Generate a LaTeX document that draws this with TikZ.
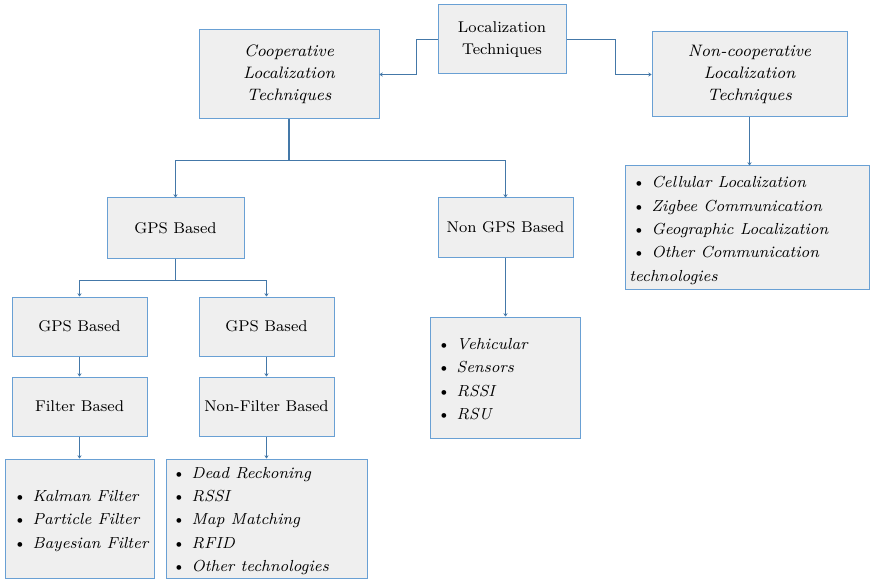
\documentclass[tikz,border=0pt]{standalone}
\usetikzlibrary{arrows.meta}
\definecolor{boxline}{RGB}{105,160,212}
\definecolor{boxfill}{RGB}{239,239,239}
\definecolor{wirecol}{RGB}{68,120,168}
\newcommand{\itm}{{\upshape\textbullet}\hspace{3pt}}
\begin{document}
\begin{tikzpicture}[x=0.5pt,y=-0.5pt,
  box/.style={draw=boxline, fill=boxfill, line width=0.5pt, align=center,
    inner sep=0pt, font=\fontsize{7.8}{11}\selectfont},
  ibox/.style={box, font=\fontsize{8.3}{11}\selectfont\itshape},
  listtext/.style={anchor=west, align=left, inner sep=0pt,
    font=\fontsize{8}{11.65}\selectfont\itshape},
  wire/.style={draw=wirecol, line width=0.75pt, -{Stealth[length=1.6pt,width=2.2pt]}},
]
\useasboundingbox (0,0) rectangle (870,582);

% top level
\node[box, minimum width=64pt, minimum height=34.5pt] (loc) at (502,39.5)
  {Localization\\Techniques};
\node[ibox, minimum width=90pt, minimum height=44.5pt] (coop) at (289,74.5)
  {Cooperative\\Localization\\Techniques};
\node[ibox, minimum width=97.5pt, minimum height=42.5pt] (noncoop) at (749.5,74.5)
  {Non-cooperative\\Localization\\Techniques};

% second level
\node[box, minimum width=68.5pt, minimum height=30pt] (gps) at (175.5,228) {GPS Based};
\node[box, minimum width=67.5pt, minimum height=29.5pt] (nongps) at (505.5,227.5) {Non GPS Based};

% third level
\node[box, minimum width=67.5pt, minimum height=29.5pt] (gpsa) at (79.5,326.5) {GPS Based};
\node[box, minimum width=67.5pt, minimum height=29.5pt] (gpsb) at (266.5,326.5) {GPS Based};
\node[box, minimum width=67.5pt, minimum height=29.5pt] (filt) at (79.5,406.5) {Filter Based};
\node[box, minimum width=67.5pt, minimum height=29.5pt] (nfilt) at (266.5,406.5) {Non-Filter Based};

% list boxes
\node[box, minimum width=74.5pt, minimum height=59.5pt] (kal) at (79.5,518.5) {};
\node[box, minimum width=100.5pt, minimum height=59.5pt] (dead) at (266.5,518.5) {};
\node[box, minimum width=75pt, minimum height=60.5pt] (veh) at (505.5,377.5) {};
\node[box, minimum width=122pt, minimum height=61.5pt] (cell) at (747,227.5) {};

% list contents
\node[listtext] (kalt) at (13,521)
  {\itm Kalman Filter\\ \itm Particle Filter\\ \itm Bayesian Filter};
\node[listtext] (deadt) at (172,521)
  {\itm Dead Reckoning\\ \itm RSSI\\ \itm Map Matching\\ \itm RFID\\ \itm Other technologies};
\node[listtext] (veht) at (437,379)
  {\itm Vehicular\\ \itm Sensors\\ \itm RSSI\\ \itm RSU};
\node[listtext] (cellt) at (629,230.5)
  {\hspace{1.5pt}\itm Cellular Localization\\ \hspace{1.5pt}\itm Zigbee Communication\\
   \hspace{1.5pt}\itm Geographic Localization\\ \hspace{1.5pt}\itm Other Communication\\ technologies};

% connectors
\draw[wire] (loc.west) -- ++(-21,0) |- (coop.east);
\draw[wire] (loc.east) -- ++(49,0) |- (noncoop.west);
\draw[wire] (coop.south) -- ++(0,41) -| (gps.north);
\draw[wire] (coop.south) -- ++(0,41) -| (nongps.north);
\draw[wire] (gps.south) -- ++(0,22) -| (gpsa.north);
\draw[wire] (gps.south) -- ++(0,22) -| (gpsb.north);
\draw[wire] (gpsa.south) -- (filt.north);
\draw[wire] (gpsb.south) -- (nfilt.north);
\draw[wire] (filt.south) -- (kal.north);
\draw[wire] (nfilt.south) -- (dead.north);
\draw[wire] (nongps.south) -- (veh.north);
\draw[wire] (noncoop.south) -- (noncoop.south |- cell.north);
\end{tikzpicture}
\end{document}
